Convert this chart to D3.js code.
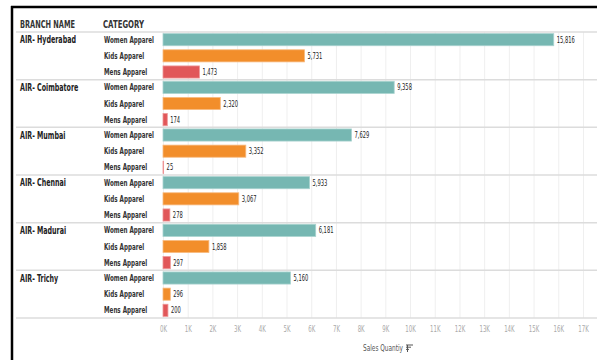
<!DOCTYPE html>
<html><head><meta charset="utf-8">
<script src="https://cdn.jsdelivr.net/npm/d3@7"></script>
<style>
body{margin:0;background:#fff;}
svg{display:block;}
text{font-family:"DejaVu Sans Condensed","Liberation Sans Narrow",sans-serif;}
</style></head>
<body>
<script>
const branches = ["AIR- Hyderabad","AIR- Coimbatore","AIR- Mumbai","AIR- Chennai","AIR- Madurai","AIR- Trichy"];
const categories = ["Women Apparel","Kids Apparel","Mens Apparel"];
const womenValues = [15816, 9358, 7629, 5933, 6181, 5160];
const kidsValues = [5731, 2320, 3352, 3067, 1858, 296];
const mensValues = [1473, 174, 25, 278, 297, 200];
const tickValues = d3.range(0, 18000, 1000);
const tickLabels = tickValues.map(v => (v/1000) + "K");
const colors = ["#76b7b2", "#f28e2b", "#e15759"];
const strokeColors = ["#a9d3cf", "#f8bb80", "#ee9596"];

const W = 597, H = 360;
const svg = d3.select("body").append("svg").attr("width", W).attr("height", H);

// squeeze text horizontally so that a reference string gets its reference width
function condense(sel, refWidth) {
  const nodes = sel.nodes();
  if (!nodes.length) return;
  const k = refWidth / nodes[0].getComputedTextLength();
  nodes.forEach(n => {
    const w = n.getComputedTextLength();
    n.setAttribute("textLength", w * k);
    n.setAttribute("lengthAdjust", "spacingAndGlyphs");
  });
}

const seriesVals = [womenValues, kidsValues, mensValues];
const data = [];
branches.forEach((b, i) => categories.forEach((c, j) => data.push({branch: b, cat: c, ci: j, value: seriesVals[j][i]})));

const plotTop = 32, plotBottom = 318;
const x = d3.scaleLinear().domain([0, 17000]).range([163, 583]);
const yGroup = d3.scaleBand().domain(branches).range([plotTop, plotBottom]).padding(0);
const yCat = d3.scaleBand().domain(categories).range([0, yGroup.bandwidth()]).paddingInner(0.25).paddingOuter(0.1);

// gridlines
svg.append("g").selectAll("line").data(tickValues).join("line")
  .attr("x1", d => x(d) + 0.5).attr("x2", d => x(d) + 0.5)
  .attr("y1", plotTop).attr("y2", plotBottom)
  .attr("stroke", "#efefef").attr("stroke-width", 1);

// group separators
const seps = [plotTop].concat(branches.map(b => yGroup(b) + yGroup.bandwidth()));
svg.append("g").selectAll("line").data(seps).join("line")
  .attr("x1", 16).attr("x2", W).attr("y1", d => d).attr("y2", d => d)
  .attr("stroke", "#dcdcdc").attr("stroke-width", 1.5);

// border
svg.append("line").attr("x1", 11).attr("x2", W).attr("y1", 7).attr("y2", 7).attr("stroke", "#000").attr("stroke-width", 2.5);
svg.append("line").attr("x1", 12).attr("x2", 12).attr("y1", 6).attr("y2", H).attr("stroke", "#000").attr("stroke-width", 2.5);

// headers
const h1 = svg.append("text").attr("x", 20).attr("y", 28).text("BRANCH NAME")
  .attr("font-size", 10).attr("font-weight", "bold").attr("fill", "#333");
const h2 = svg.append("text").attr("x", 103).attr("y", 28).text("CATEGORY")
  .attr("font-size", 10).attr("font-weight", "bold").attr("fill", "#333");
condense(h1, 55);
condense(h2, 41);

// branch labels
const bl = svg.append("g").selectAll("text").data(branches).join("text")
  .attr("x", 20).attr("y", b => yGroup(b) + yCat(categories[0]) + yCat.bandwidth()/2 + 3.5)
  .text(b => b).attr("font-size", 10).attr("font-weight", "bold").attr("fill", "#222");
condense(bl, 56);

// category labels
const cl = svg.append("g").selectAll("text").data(data).join("text")
  .attr("x", 104).attr("y", d => yGroup(d.branch) + yCat(d.cat) + yCat.bandwidth()/2 + 3)
  .text(d => d.cat).attr("font-size", 8).attr("font-weight", "bold").attr("fill", "#333");
condense(cl, 50);

// bars
svg.append("g").selectAll("rect").data(data).join("rect")
  .attr("x", x(0)).attr("y", d => yGroup(d.branch) + yCat(d.cat))
  .attr("width", d => x(d.value) - x(0)).attr("height", yCat.bandwidth())
  .attr("fill", d => colors[d.ci]).attr("stroke", d => strokeColors[d.ci]).attr("stroke-width", 0.8);

// value labels
const fmt = d3.format(",");
const vl = svg.append("g").selectAll("text").data(data).join("text")
  .attr("x", d => x(d.value) + 3).attr("y", d => yGroup(d.branch) + yCat(d.cat) + yCat.bandwidth()/2 + 3)
  .text(d => fmt(d.value)).attr("font-size", 8).attr("fill", "#222");
condense(vl, 18);

// x axis
const axis = svg.append("g").attr("transform", `translate(0,${plotBottom})`)
  .call(d3.axisBottom(x).tickValues(tickValues).tickFormat((d, i) => tickLabels[i]).tickSize(0).tickPadding(8));
axis.select(".domain").remove();
const tl = axis.selectAll("text").attr("font-size", 8).attr("fill", "#aaaaaa")
  .style("font-family", "'DejaVu Sans Condensed',sans-serif");
condense(tl, 7);

// axis title
const at = svg.append("text").attr("x", 383).attr("y", 351).attr("text-anchor", "middle").text("Sales Quantiy")
  .attr("font-size", 8).attr("fill", "#555");
condense(at, 40);
const icon = svg.append("g").attr("transform", "translate(406,345)");
[[0,7],[1,5],[2,3]].forEach(([i, w]) => icon.append("line").attr("x1", 0).attr("x2", w).attr("y1", i*2.2).attr("y2", i*2.2).attr("stroke", "#555").attr("stroke-width", 1));
icon.append("line").attr("x1", 1.5).attr("x2", 1.5).attr("y1", 0).attr("y2", 7).attr("stroke", "#555").attr("stroke-width", 1);
</script>
</body></html>
